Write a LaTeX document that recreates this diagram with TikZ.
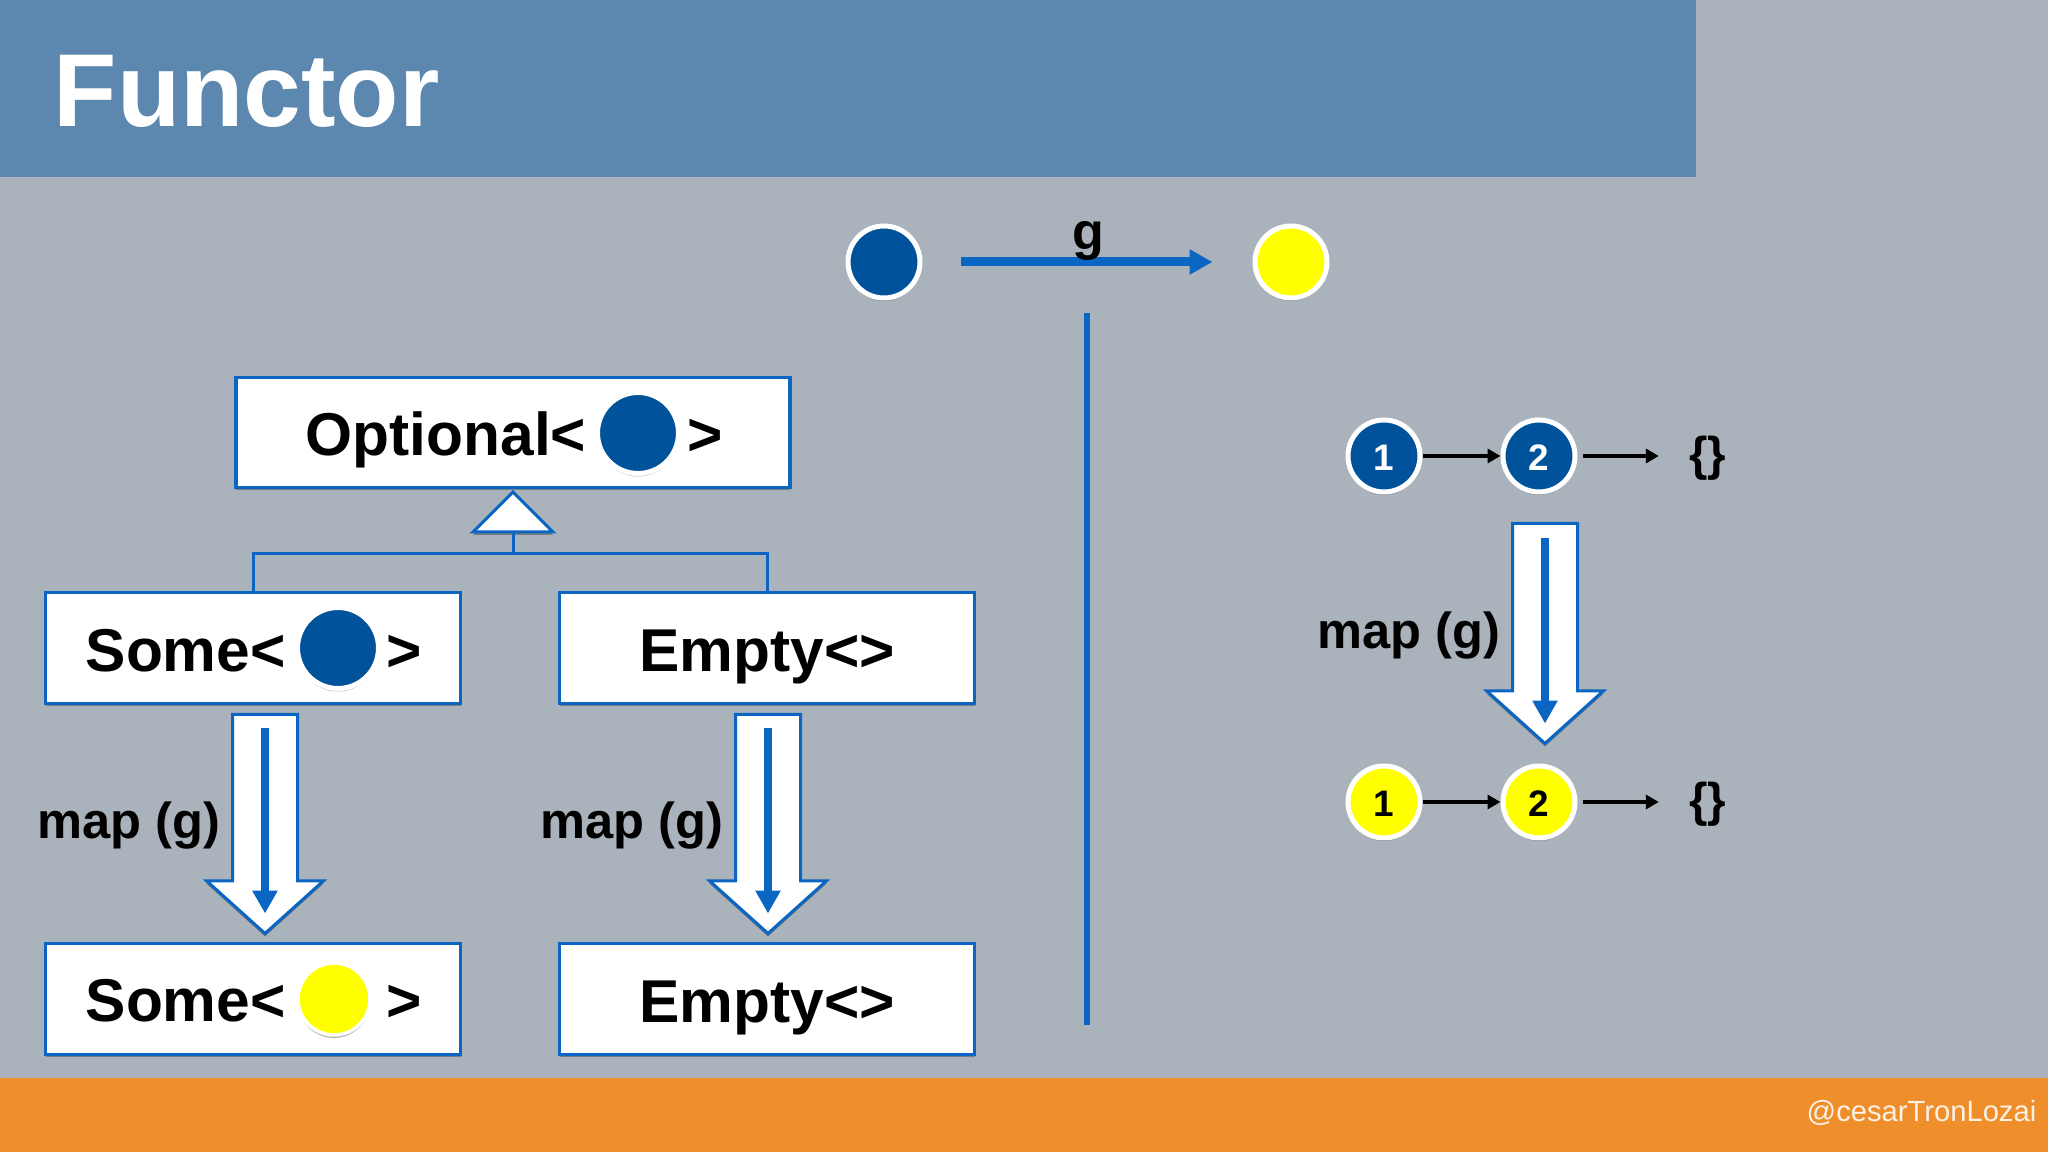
\documentclass[tikz,border=0pt]{standalone}
\usepackage{fontspec}
\setmainfont{Liberation Sans}
\usetikzlibrary{arrows.meta, shapes.geometric, shapes.arrows, shadows}

\definecolor{fondo}{HTML}{AAB3BB}
\definecolor{cabecera}{HTML}{5C87AE}
\definecolor{naranja}{HTML}{EE8F2B}
\definecolor{linea}{HTML}{0A66C2}
\definecolor{azul}{HTML}{00529B}
\definecolor{amarillo}{HTML}{FFFF00}

\tikzset{
    sombra/.style={general shadow={shadow xshift=0pt, shadow yshift=-.03cm, fill=black, opacity=.3}},
    caja/.style={rectangle, draw=linea, fill=white, line width=.035cm, inner sep=0pt,
        text depth=0pt, text height=.48cm, font=\fontsize{17.2}{20}\selectfont\bfseries, sombra},
    texto/.style={inner sep=0pt, anchor=base west, font=\fontsize{17.2}{20}\selectfont\bfseries},
    etiqueta/.style={inner sep=0pt, anchor=base west, font=\fontsize{14.4}{17}\selectfont\bfseries},
    bolita/.style={circle, draw=white, line width=.05cm, inner sep=0pt, minimum size=.72cm,
        text depth=0pt, text height=.30cm, font=\fontsize{10.5}{12}\selectfont\bfseries, sombra},
    llaves/.style={inner sep=0pt, text depth=.10cm, text height=.40cm,
        font=\fontsize{13.5}{16}\selectfont\bfseries},
    flechota/.style={single arrow, draw=linea, fill=white, line width=.03cm,
        inner xsep=.31cm, inner ysep=0pt, minimum height=2.19cm, minimum width=1.14cm,
        single arrow head extend=.26cm, single arrow tip angle=96,
        shape border rotate=270, anchor=tail, sombra},
    interior/.style={draw=linea, line width=.08cm, -{Triangle[length=.23cm, width=.24cm]}},
    negra/.style={black, line width=.04cm, -{Triangle[length=.13cm, width=.14cm]}},
    herencia/.style={draw=linea, line width=.03cm}
}

\begin{document}
\begin{tikzpicture}[scale=1]
    \useasboundingbox (0,0) rectangle (20.48,11.52);

    % Fondo, cabecera y pie
    \fill[fondo] (0,0) rectangle (20.48,11.52);
    \fill[cabecera] (0,9.75) rectangle (16.96,11.52);
    \fill[naranja] (0,0) rectangle (20.48,.74);
    \node[inner sep=0pt, anchor=base west, white, font=\fontsize{29.5}{34}\selectfont\bfseries]
        (titulo) at (.53,10.25) {Functor};
    \node[inner sep=0pt, anchor=base east, white!88!naranja, font=\fontsize{8.3}{10}\selectfont]
        (autor) at (20.37,.30) {@cesarTronLozai};

    % Funcion g
    \node[bolita, fill=azul] (origen) at (8.84,8.90) {};
    \node[bolita, fill=amarillo] (destino) at (12.91,8.90) {};
    \draw[interior, line width=.09cm, shorten <=.38cm, shorten >=.4cm] (origen) -- (destino);
    \node[etiqueta, anchor=base, font=\fontsize{14.8}{18}\selectfont\bfseries] (nombreG) at (10.885,9.02) {g};

    % Linea vertical
    \coordinate (sepArriba) at (10.87,8.39);
    \coordinate (sepAbajo) at (10.87,1.27);
    \draw[linea, line width=.06cm] (sepArriba) -- (sepAbajo);

    % Cajas
    \node[caja, minimum width=5.54cm, minimum height=1.10cm] (optional) at (5.13,7.195) {};
    \node[caja, minimum width=4.15cm, minimum height=1.11cm] (someA) at (2.53,5.04) {};
    \node[caja, minimum width=4.15cm, minimum height=1.11cm] (emptyA) at (7.67,5.04) {Empty<>};
    \node[caja, minimum width=4.15cm, minimum height=1.11cm] (someB) at (2.53,1.53) {};
    \node[caja, minimum width=4.15cm, minimum height=1.11cm] (emptyB) at (7.67,1.53) {Empty<>};

    % Textos de las cajas
    \node[texto] (optionalIzq) at (3.05,6.96) {Optional<};
    \node[texto] (optionalDer) at (6.87,6.96) {>};
    \node[texto] (someAIzq) at (.85,4.80) {Some<};
    \node[texto] (someADer) at (3.86,4.80) {>};
    \node[texto] (someBIzq) at (.85,1.30) {Some<};
    \node[texto] (someBDer) at (3.86,1.30) {>};

    % Bolitas de las cajas
    \node[bolita, fill=azul, minimum size=.81cm] (bolaOptional) at (6.38,7.19) {};
    \node[bolita, fill=azul, minimum size=.81cm] (bolaSome) at (3.38,5.04) {};
    \node[bolita, fill=amarillo, minimum size=.72cm, line width=.035cm] (bolaSomeB) at (3.34,1.53) {};

    % Herencia
    \node[isosceles triangle, isosceles triangle stretches, shape border rotate=90, draw=linea,
        fill=white, line width=.03cm, inner sep=0pt, minimum width=.8cm, minimum height=.4cm,
        anchor=apex, sombra] (triangulo) at (5.13,6.64) {};
    \coordinate (union) at (5.13,5.98);
    \draw[herencia] (triangulo.lower side) -- (union);
    \draw[herencia] (someA.north) |- (union) -| (emptyA.north);

    % Flechas map (g) de la izquierda
    \node[flechota] (mapA) at (2.65,4.39) {};
    \node[flechota] (mapB) at (7.68,4.39) {};
    \draw[interior] ([yshift=-.15cm]mapA.tail) -- ([yshift=.22cm]mapA.tip);
    \draw[interior] ([yshift=-.15cm]mapB.tail) -- ([yshift=.22cm]mapB.tip);
    \node[etiqueta] (etiquetaA) at (.37,3.13) {map (g)};
    \node[etiqueta] (etiquetaB) at (5.40,3.13) {map (g)};

    % Lista de arriba
    \node[bolita, fill=azul, text=white] (azulUno) at (13.84,6.96) {1};
    \node[bolita, fill=azul, text=white] (azulDos) at (15.39,6.96) {2};
    \node[llaves] (azulFin) at (17.08,6.96) {\{\}};
    \draw[negra] (azulUno) -- (azulDos);
    \draw[negra, shorten <=.05cm, shorten >=.3cm] (azulDos) -- (azulFin);

    % Flecha map (g) de la derecha
    \node[flechota, minimum height=2.20cm] (mapC) at (15.45,6.30) {};
    \draw[interior] ([yshift=-.16cm]mapC.tail) -- ([yshift=.22cm]mapC.tip);
    \node[etiqueta] (etiquetaC) at (13.17,5.03) {map (g)};

    % Lista de abajo
    \node[bolita, fill=amarillo] (amarilloUno) at (13.84,3.50) {1};
    \node[bolita, fill=amarillo] (amarilloDos) at (15.39,3.50) {2};
    \node[llaves] (amarilloFin) at (17.08,3.50) {\{\}};
    \draw[negra] (amarilloUno) -- (amarilloDos);
    \draw[negra, shorten <=.05cm, shorten >=.3cm] (amarilloDos) -- (amarilloFin);
\end{tikzpicture}
\end{document}
